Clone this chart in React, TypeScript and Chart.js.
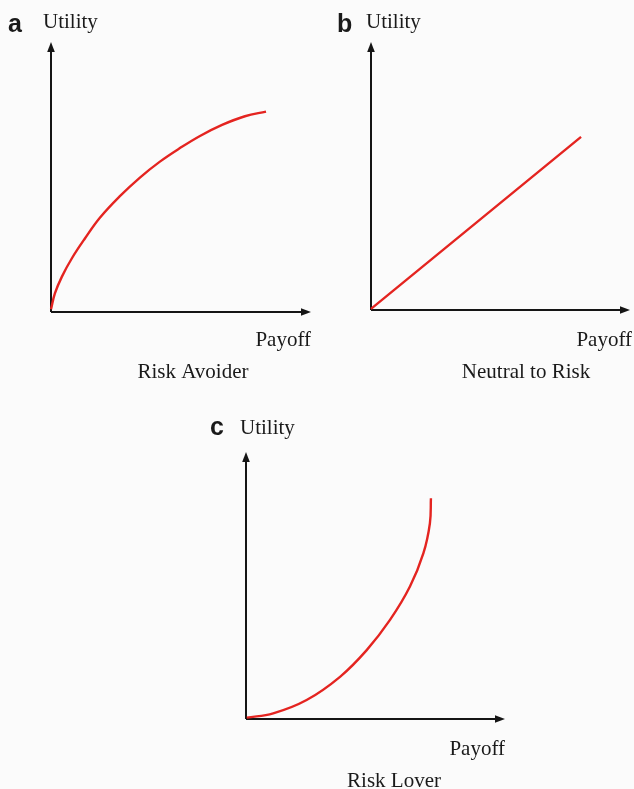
import React, { useEffect, useRef } from "react";
import { Chart, registerables } from "chart.js";

Chart.register(...registerables);

// ---- Data (payoff / utility in arbitrary units, 0..100 = axis length) ----
const avoiderPayoff = [0, 1.5, 4.2, 8.1, 13.1, 18.8, 26.5, 34.2, 41.9, 49.6, 57.3, 65.8, 74.6, 82.7];
const avoiderUtility = [1.0, 6.9, 13.1, 20.0, 27.3, 34.9, 42.9, 49.8, 55.7, 60.7, 65.2, 69.3, 72.5, 74.2];

const neutralPayoff = [0, 81.1];
const neutralUtility = [0.4, 64.6];

const loverPayoff = [0.3, 10.5, 23.4, 36.3, 46.6, 55.6, 63.3, 68.5, 71.0, 71.4];
const loverUtility = [0.5, 2.1, 7.1, 15.8, 25.8, 37.1, 49.6, 62.1, 73.3, 82.7];

const panelLetters = ["a", "b", "c"];
const panelCaptions = ["Risk Avoider", "Neutral to Risk", "Risk Lover"];
const yAxisTitle = "Utility";
const xAxisTitle = "Payoff";

const W = 634;
const H = 789;

type Panel = {
  letter: string;
  caption: string;
  xs: number[];
  ys: number[];
  area: { left: number; top: number; right: number; bottom: number };
  letterPos: [number, number];
  utilityPos: [number, number];
  payoffPos: [number, number];
  captionPos: [number, number];
};

const panels: Panel[] = [
  {
    letter: panelLetters[0],
    caption: panelCaptions[0],
    xs: avoiderPayoff,
    ys: avoiderUtility,
    area: { left: 51, top: 42, right: 311, bottom: 312 },
    letterPos: [8, 32],
    utilityPos: [43, 28],
    payoffPos: [311, 346],
    captionPos: [193, 378],
  },
  {
    letter: panelLetters[1],
    caption: panelCaptions[1],
    xs: neutralPayoff,
    ys: neutralUtility,
    area: { left: 371, top: 42, right: 630, bottom: 310 },
    letterPos: [337, 32],
    utilityPos: [366, 28],
    payoffPos: [632, 346],
    captionPos: [526, 378],
  },
  {
    letter: panelLetters[2],
    caption: panelCaptions[2],
    xs: loverPayoff,
    ys: loverUtility,
    area: { left: 246, top: 452, right: 505, bottom: 719 },
    letterPos: [210, 435],
    utilityPos: [240, 434],
    payoffPos: [505, 755],
    captionPos: [394, 787],
  },
];

function makeDecor(p: Panel) {
  return {
    id: "decor" + p.letter,
    beforeDatasetsDraw(chart: any) {
      const ctx = chart.ctx as CanvasRenderingContext2D;
      const xs = chart.scales.x;
      const ys = chart.scales.y;
      const x0 = xs.getPixelForValue(0);
      const x1 = xs.getPixelForValue(100);
      const y0 = ys.getPixelForValue(0);
      const y1 = ys.getPixelForValue(100);
      const al = 10;
      const aw = 3.8;
      ctx.save();
      ctx.strokeStyle = "#151515";
      ctx.fillStyle = "#151515";
      ctx.lineWidth = 2;
      ctx.beginPath();
      ctx.moveTo(x0, y0);
      ctx.lineTo(x1 - al + 1, y0);
      ctx.moveTo(x0, y0);
      ctx.lineTo(x0, y1 + al - 1);
      ctx.stroke();
      // x arrowhead
      ctx.beginPath();
      ctx.moveTo(x1, y0);
      ctx.lineTo(x1 - al, y0 - aw);
      ctx.lineTo(x1 - al, y0 + aw);
      ctx.closePath();
      ctx.fill();
      // y arrowhead
      ctx.beginPath();
      ctx.moveTo(x0, y1);
      ctx.lineTo(x0 - aw, y1 + al);
      ctx.lineTo(x0 + aw, y1 + al);
      ctx.closePath();
      ctx.fill();

      ctx.fillStyle = "#1a1a1a";
      ctx.textBaseline = "alphabetic";
      ctx.font = "bold 25px 'Liberation Sans', Arial, sans-serif";
      ctx.textAlign = "left";
      ctx.fillText(p.letter, p.letterPos[0], p.letterPos[1]);
      ctx.font = "21px 'Liberation Serif', 'Times New Roman', serif";
      ctx.fillText(yAxisTitle, p.utilityPos[0], p.utilityPos[1]);
      ctx.textAlign = "right";
      ctx.fillText(xAxisTitle, p.payoffPos[0], p.payoffPos[1]);
      ctx.textAlign = "center";
      ctx.fillText(p.caption, p.captionPos[0], p.captionPos[1]);
      ctx.restore();
    },
  };
}

function PanelChart({ p }: { p: Panel }) {
  const ref = useRef<HTMLCanvasElement | null>(null);
  useEffect(() => {
    if (!ref.current) return;
    const chart = new Chart(ref.current, {
      type: "scatter",
      data: {
        datasets: [
          {
            data: p.xs.map((x, i) => ({ x, y: p.ys[i] })),
            showLine: true,
            borderColor: "#e42420",
            borderWidth: 2.4,
            pointRadius: 0,
            tension: 0.4,
            clip: false,
          } as any,
        ],
      },
      options: {
        responsive: false,
        animation: false,
        events: [],
        elements: { line: { capBezierPoints: false } },
        layout: {
          padding: {
            left: p.area.left,
            top: p.area.top,
            right: W - p.area.right,
            bottom: H - p.area.bottom,
          },
        },
        plugins: {
          legend: { display: false },
          tooltip: { enabled: false },
        },
        scales: {
          x: { type: "linear", min: 0, max: 100, display: false },
          y: { type: "linear", min: 0, max: 100, display: false },
        },
      },
      plugins: [makeDecor(p)],
    });
    return () => chart.destroy();
  }, [p]);
  return (
    <canvas
      ref={ref}
      width={W}
      height={H}
      style={{ position: "absolute", left: 0, top: 0, width: W, height: H }}
    />
  );
}

export default function App() {
  return (
    <div
      style={{
        position: "absolute",
        left: 0,
        top: 0,
        width: W,
        height: H,
        background: "#fbfbfb",
        overflow: "hidden",
      }}
    >
      {panels.map((p) => (
        <PanelChart key={p.letter} p={p} />
      ))}
    </div>
  );
}
